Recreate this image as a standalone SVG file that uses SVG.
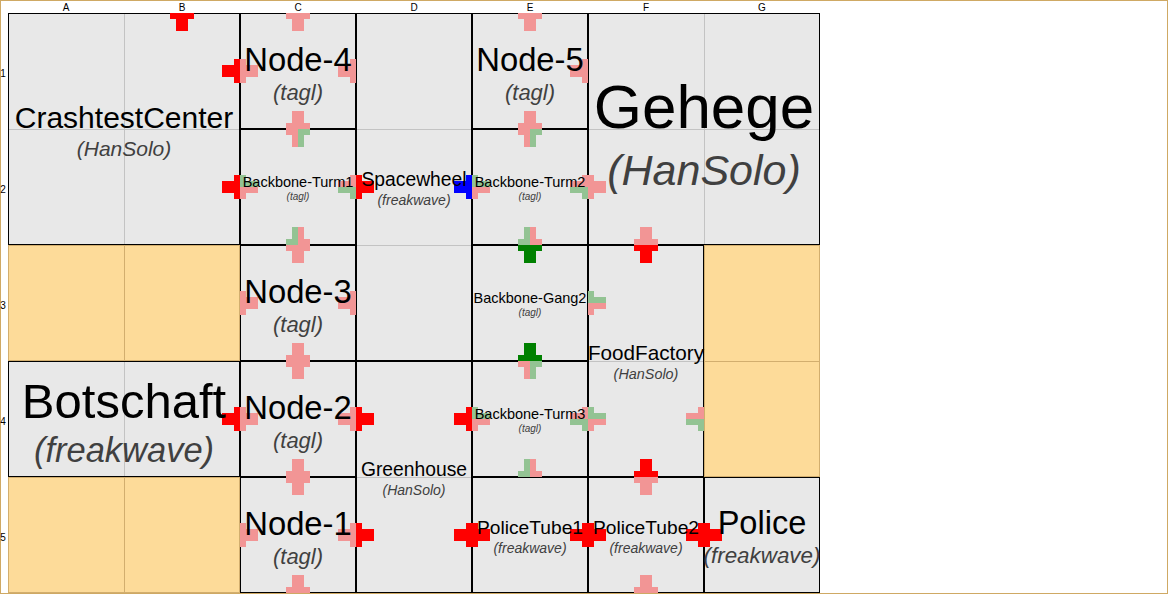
<svg xmlns="http://www.w3.org/2000/svg" xmlns:xlink="http://www.w3.org/1999/xlink" width="1168" height="594" viewBox="0 0 1168 594">
<style>
.frame{fill:#fff;stroke:#cfa964;stroke-width:1}
.empty{fill:#fddb99;stroke:#d2ae6e;stroke-width:1}
.tan{stroke:#d2ae6e;stroke-width:1}
.cell{fill:#e8e8e8;stroke:#000;stroke-width:1}
.gl{stroke:#c3c3c3;stroke-width:1}
.hd{font-family:"Liberation Sans",Arial,sans-serif;font-size:10px;fill:#000;text-anchor:middle}
.t{font-family:"Liberation Sans",Arial,sans-serif;text-anchor:middle;fill:#000}
.tag{font-family:"Liberation Sans",Arial,sans-serif;text-anchor:middle;font-style:italic;fill:#404040}
.red{fill:#ff0000}
.pink{fill:#f29595}
.dg{fill:#008000}
.blue{fill:#0000ff}
</style>
<defs>
<path id="T" d="M-12 0H12V6H6V18H-6V6H-12Z"/>
<g id="S"><path d="M-12 0H0V18H-6V6H-12Z" fill="#f29595"/><path d="M0 0H12V6H6V18H0Z" fill="#93c393"/></g>
</defs>
<rect class="frame" x="0.5" y="0.5" width="1167" height="593"/>
<g id="headers">
<text class="hd" x="66" y="11">A</text>
<text class="hd" x="182" y="11">B</text>
<text class="hd" x="298" y="11">C</text>
<text class="hd" x="414" y="11">D</text>
<text class="hd" x="530" y="11">E</text>
<text class="hd" x="646" y="11">F</text>
<text class="hd" x="762" y="11">G</text>
<text class="hd" x="3" y="77">1</text>
<text class="hd" x="3" y="193">2</text>
<text class="hd" x="3" y="309">3</text>
<text class="hd" x="3" y="425">4</text>
<text class="hd" x="3" y="541">5</text>
</g>
<g id="empty-cells">
<rect class="empty" x="8.5" y="245.5" width="231" height="115"/>
<line class="tan" x1="124.5" y1="246" x2="124.5" y2="361"/>
<rect class="empty" x="8.5" y="477.5" width="231" height="115"/>
<line class="tan" x1="124.5" y1="478" x2="124.5" y2="593"/>
<rect class="empty" x="704.5" y="245.5" width="115" height="231"/>
<line class="tan" x1="705" y1="361.5" x2="820" y2="361.5"/>
</g>
<g id="connectors"></g>

<g id="CrashtestCenter">
<rect class="cell" x="8.5" y="13.5" width="231" height="231"/>
<line class="gl" x1="124.5" y1="14" x2="124.5" y2="244"/>
<line class="gl" x1="9" y1="129.5" x2="239" y2="129.5"/>
<use href="#T" class="red" transform="translate(182,13)"/>
<use href="#T" class="red" transform="translate(240,71) rotate(90)"/>
<use href="#T" class="red" transform="translate(240,187) rotate(90)"/>
<text class="t" x="124" y="128" font-size="30">CrashtestCenter</text>
<text class="tag" x="124" y="156" font-size="21">(HanSolo)</text>
</g>

<g id="Node-4">
<rect class="cell" x="240.5" y="13.5" width="115" height="115"/>
<use href="#T" class="pink" transform="translate(298,13)"/>
<use href="#T" class="pink" transform="translate(240,71) rotate(-90)"/>
<use href="#T" class="pink" transform="translate(356,71) rotate(90)"/>
<use href="#T" class="pink" transform="translate(298,129) rotate(180)"/>
<text class="t" x="298" y="71" font-size="32.8">Node-4</text>
<text class="tag" x="298" y="100" font-size="22">(tagl)</text>
</g>

<g id="Spacewheel">
<rect class="cell" x="356.5" y="13.5" width="115" height="347"/>
<line class="gl" x1="357" y1="129.5" x2="471" y2="129.5"/>
<line class="gl" x1="357" y1="245.5" x2="471" y2="245.5"/>
<use href="#T" class="red" transform="translate(356,187) rotate(-90)"/>
<use href="#T" class="blue" transform="translate(472,187) rotate(90)"/>
<text class="t" x="414" y="186" font-size="19.3">Spacewheel</text>
<text class="tag" x="414" y="205" font-size="14">(freakwave)</text>
</g>

<g id="Node-5">
<rect class="cell" x="472.5" y="13.5" width="115" height="115"/>
<use href="#T" class="pink" transform="translate(530,13)"/>
<use href="#T" class="pink" transform="translate(588,71) rotate(90)"/>
<use href="#T" class="pink" transform="translate(530,129) rotate(180)"/>
<text class="t" x="530" y="71" font-size="32.8">Node-5</text>
<text class="tag" x="530" y="100" font-size="22">(tagl)</text>
</g>

<g id="Gehege">
<rect class="cell" x="588.5" y="13.5" width="231" height="231"/>
<line class="gl" x1="704.5" y1="14" x2="704.5" y2="244"/>
<line class="gl" x1="589" y1="129.5" x2="819" y2="129.5"/>
<use href="#T" class="pink" transform="translate(588,187) rotate(-90)"/>
<use href="#T" class="pink" transform="translate(646,245) rotate(180)"/>
<text class="t" x="704" y="128" font-size="62">Gehege</text>
<text class="tag" x="704" y="185" font-size="43">(HanSolo)</text>
</g>

<g id="Backbone-Turm1">
<rect class="cell" x="240.5" y="129.5" width="115" height="115"/>
<use href="#S" transform="translate(298,129)"/>
<use href="#S" transform="translate(240,187) rotate(-90)"/>
<use href="#S" transform="translate(356,187) rotate(90)"/>
<use href="#S" transform="translate(298,245) rotate(180)"/>
<text class="t" x="298" y="187" font-size="14.5">Backbone-Turm1</text>
<text class="tag" x="298" y="200" font-size="10">(tagl)</text>
</g>

<g id="Backbone-Turm2">
<rect class="cell" x="472.5" y="129.5" width="115" height="115"/>
<use href="#S" transform="translate(530,129)"/>
<use href="#S" transform="translate(472,187) rotate(-90)"/>
<use href="#S" transform="translate(588,187) rotate(90)"/>
<use href="#S" transform="translate(530,245) rotate(180)"/>
<text class="t" x="530" y="187" font-size="14.5">Backbone-Turm2</text>
<text class="tag" x="530" y="200" font-size="10">(tagl)</text>
</g>

<g id="Node-3">
<rect class="cell" x="240.5" y="245.5" width="115" height="115"/>
<use href="#T" class="pink" transform="translate(298,245)"/>
<use href="#T" class="pink" transform="translate(240,303) rotate(-90)"/>
<use href="#T" class="pink" transform="translate(356,303) rotate(90)"/>
<use href="#T" class="pink" transform="translate(298,361) rotate(180)"/>
<text class="t" x="298" y="303" font-size="32.8">Node-3</text>
<text class="tag" x="298" y="332" font-size="22">(tagl)</text>
</g>

<g id="Backbone-Gang2">
<rect class="cell" x="472.5" y="245.5" width="115" height="115"/>
<use href="#T" class="dg" transform="translate(530,245)"/>
<use href="#T" class="dg" transform="translate(530,361) rotate(180)"/>
<text class="t" x="530" y="303" font-size="14.5">Backbone-Gang2</text>
<text class="tag" x="530" y="316" font-size="10">(tagl)</text>
</g>

<g id="FoodFactory">
<rect class="cell" x="588.5" y="245.5" width="115" height="231"/>
<line class="gl" x1="589" y1="361.5" x2="703" y2="361.5"/>
<use href="#T" class="red" transform="translate(646,245)"/>
<use href="#S" transform="translate(588,303) rotate(-90)"/>
<use href="#S" transform="translate(588,419) rotate(-90)"/>
<use href="#S" transform="translate(704,419) rotate(90)"/>
<use href="#T" class="red" transform="translate(646,477) rotate(180)"/>
<text class="t" x="646" y="360" font-size="20.7">FoodFactory</text>
<text class="tag" x="646" y="379" font-size="14.4">(HanSolo)</text>
</g>

<g id="Botschaft">
<rect class="cell" x="8.5" y="361.5" width="231" height="115"/>
<line class="gl" x1="124.5" y1="362" x2="124.5" y2="476"/>
<use href="#T" class="red" transform="translate(240,419) rotate(90)"/>
<text class="t" x="124" y="418" font-size="49">Botschaft</text>
<text class="tag" x="124" y="462" font-size="34.5">(freakwave)</text>
</g>

<g id="Node-2">
<rect class="cell" x="240.5" y="361.5" width="115" height="115"/>
<use href="#T" class="pink" transform="translate(298,361)"/>
<use href="#T" class="pink" transform="translate(240,419) rotate(-90)"/>
<use href="#T" class="pink" transform="translate(356,419) rotate(90)"/>
<use href="#T" class="pink" transform="translate(298,477) rotate(180)"/>
<text class="t" x="298" y="419" font-size="32.8">Node-2</text>
<text class="tag" x="298" y="448" font-size="22">(tagl)</text>
</g>

<g id="Greenhouse">
<rect class="cell" x="356.5" y="361.5" width="115" height="231"/>
<line class="gl" x1="357" y1="477.5" x2="471" y2="477.5"/>
<use href="#T" class="red" transform="translate(356,419) rotate(-90)"/>
<use href="#T" class="red" transform="translate(356,535) rotate(-90)"/>
<use href="#T" class="red" transform="translate(472,419) rotate(90)"/>
<use href="#T" class="red" transform="translate(472,535) rotate(90)"/>
<text class="t" x="414" y="476" font-size="19.3">Greenhouse</text>
<text class="tag" x="414" y="495" font-size="14">(HanSolo)</text>
</g>

<g id="Backbone-Turm3">
<rect class="cell" x="472.5" y="361.5" width="115" height="115"/>
<use href="#S" transform="translate(530,361)"/>
<use href="#S" transform="translate(472,419) rotate(-90)"/>
<use href="#S" transform="translate(588,419) rotate(90)"/>
<use href="#S" transform="translate(530,477) rotate(180)"/>
<text class="t" x="530" y="419" font-size="14.5">Backbone-Turm3</text>
<text class="tag" x="530" y="432" font-size="10">(tagl)</text>
</g>

<g id="Node-1">
<rect class="cell" x="240.5" y="477.5" width="115" height="115"/>
<use href="#T" class="pink" transform="translate(298,477)"/>
<use href="#T" class="pink" transform="translate(240,535) rotate(-90)"/>
<use href="#T" class="pink" transform="translate(356,535) rotate(90)"/>
<use href="#T" class="pink" transform="translate(298,593) rotate(180)"/>
<text class="t" x="298" y="535" font-size="32.8">Node-1</text>
<text class="tag" x="298" y="564" font-size="22">(tagl)</text>
</g>

<g id="PoliceTube1">
<rect class="cell" x="472.5" y="477.5" width="115" height="115"/>
<use href="#T" class="red" transform="translate(472,535) rotate(-90)"/>
<use href="#T" class="red" transform="translate(588,535) rotate(90)"/>
<text class="t" x="530" y="534" font-size="19.2">PoliceTube1</text>
<text class="tag" x="530" y="553" font-size="14">(freakwave)</text>
</g>

<g id="PoliceTube2">
<rect class="cell" x="588.5" y="477.5" width="115" height="115"/>
<use href="#T" class="pink" transform="translate(646,477)"/>
<use href="#T" class="red" transform="translate(588,535) rotate(-90)"/>
<use href="#T" class="red" transform="translate(704,535) rotate(90)"/>
<use href="#T" class="pink" transform="translate(646,593) rotate(180)"/>
<text class="t" x="646" y="534" font-size="19.2">PoliceTube2</text>
<text class="tag" x="646" y="553" font-size="14">(freakwave)</text>
</g>

<g id="Police">
<rect class="cell" x="704.5" y="477.5" width="115" height="115"/>
<use href="#T" class="red" transform="translate(704,535) rotate(-90)"/>
<text class="t" x="762" y="534" font-size="32.6">Police</text>
<text class="tag" x="762" y="563" font-size="22.4">(freakwave)</text>
</g>
</svg>
